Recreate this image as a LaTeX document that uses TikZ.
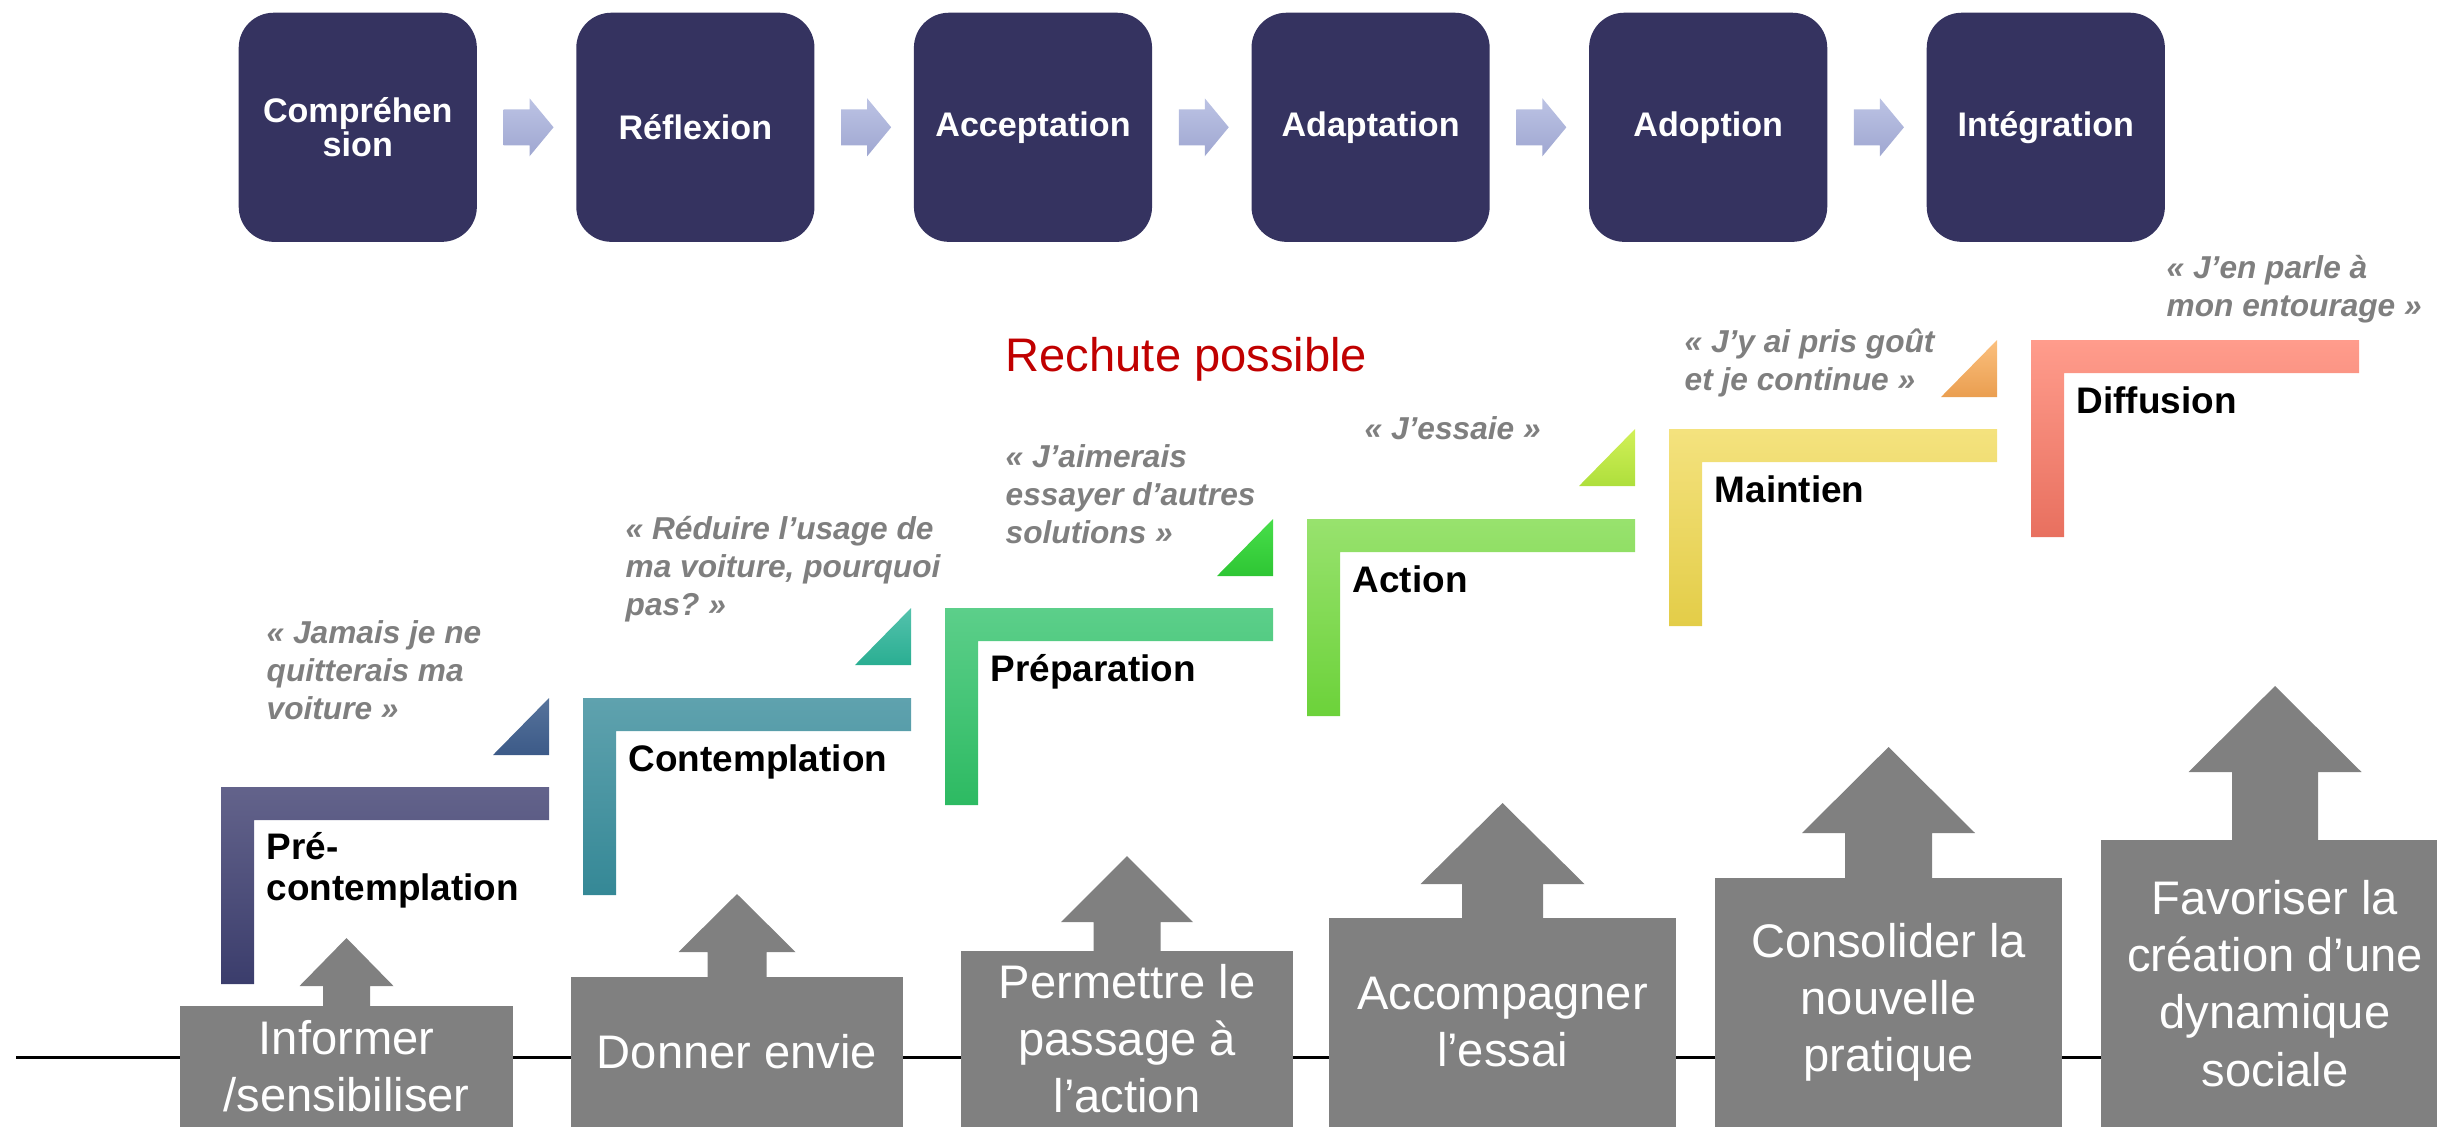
\documentclass[tikz,border=0pt]{standalone}
\usepackage{fontspec}
\setmainfont{Liberation Sans}
\usetikzlibrary{positioning,calc}

\definecolor{navybox}{HTML}{353360}
\definecolor{levergray}{HTML}{808080}
\definecolor{saygray}{HTML}{7F7F7F}
\definecolor{relapse}{HTML}{C00000}
\definecolor{arrowtop}{HTML}{BCC3E4}
\definecolor{arrowbot}{HTML}{9FA7D1}
% stairs: top / bottom
\definecolor{preA}{HTML}{63638B}
\definecolor{preB}{HTML}{3B3D6C}
\definecolor{conA}{HTML}{5FA2AE}
\definecolor{conB}{HTML}{358896}
\definecolor{prpA}{HTML}{5CCF8A}
\definecolor{prpB}{HTML}{2DBA62}
\definecolor{actA}{HTML}{98E26E}
\definecolor{actB}{HTML}{6CD23A}
\definecolor{maiA}{HTML}{F4E27E}
\definecolor{maiM}{HTML}{F8E45A}
\definecolor{maiB}{HTML}{E3CD48}
\definecolor{difA}{HTML}{FF9C8C}
\definecolor{difB}{HTML}{E8705F}
% wedges: top / bottom
\definecolor{wdgAa}{HTML}{56739B}
\definecolor{wdgAb}{HTML}{3C5A88}
\definecolor{wdgBa}{HTML}{54C2AC}
\definecolor{wdgBb}{HTML}{2AAE92}
\definecolor{wdgCa}{HTML}{48DE4A}
\definecolor{wdgCb}{HTML}{2EC634}
\definecolor{wdgDa}{HTML}{D2F058}
\definecolor{wdgDb}{HTML}{AEDF3C}
\definecolor{wdgEa}{HTML}{FBC07E}
\definecolor{wdgEb}{HTML}{EA9E50}

\newcommand{\leverarrow}[5]{%
  \fill[levergray] ($(#1.north)+(-#2,1)$) -- ++(0,{-#4-1}) -- ++({#2-#3},0) -- ++(#3,-#5)
    -- ++(#3,#5) -- ++({#2-#3},0) -- ++(0,{#4+1}) -- cycle;}

\begin{document}
\begin{tikzpicture}[x=0.01cm, y=-0.01cm,
    phase/.style={rectangle, draw=none, rounded corners=3.5mm, fill=navybox, text=white,
        font=\fontsize{9.7}{9.7}\selectfont\bfseries, align=center,
        minimum width=2.38cm, minimum height=2.29cm, inner sep=0pt},
    flowarrow/.style={top color=arrowtop, bottom color=arrowbot, draw=none},
    lever/.style={rectangle, draw=none, fill=levergray, text=white, align=center,
        font=\fontsize{13.4}{16.3}\selectfont, minimum width=3.33cm, inner sep=0pt, anchor=north},
    stage/.style={font=\fontsize{10.5}{11.4}\selectfont\bfseries, align=left,
        inner sep=0pt, anchor=base west},
    saying/.style={font=\fontsize{9}{10.8}\selectfont\bfseries\itshape, text=saygray,
        align=left, inner sep=0pt, anchor=base west}
]
\useasboundingbox (0,0) rectangle (2437,1126);

% top row
\node (compr) [phase, anchor=north west] at (238,12) {Compréhen\\sion};
\node (reflex) [phase, right=0.98cm of compr] {Réflexion};
\node (accept) [phase, right=0.98cm of reflex] {Acceptation};
\node (adapt) [phase, right=0.98cm of accept] {Adaptation};
\node (adopt) [phase, right=0.98cm of adapt] {Adoption};
\node (integr) [phase, right=0.98cm of adopt] {Intégration};

\shade[flowarrow] ($(compr.east)+(26,-18)$) -- ++(26,0) -- ++(0,-11) -- ++(24,29) -- ++(-24,29) -- ++(0,-11) -- ++(-26,0) -- cycle;
\shade[flowarrow] ($(reflex.east)+(26,-18)$) -- ++(26,0) -- ++(0,-11) -- ++(24,29) -- ++(-24,29) -- ++(0,-11) -- ++(-26,0) -- cycle;
\shade[flowarrow] ($(accept.east)+(26,-18)$) -- ++(26,0) -- ++(0,-11) -- ++(24,29) -- ++(-24,29) -- ++(0,-11) -- ++(-26,0) -- cycle;
\shade[flowarrow] ($(adapt.east)+(26,-18)$) -- ++(26,0) -- ++(0,-11) -- ++(24,29) -- ++(-24,29) -- ++(0,-11) -- ++(-26,0) -- cycle;
\shade[flowarrow] ($(adopt.east)+(26,-18)$) -- ++(26,0) -- ++(0,-11) -- ++(24,29) -- ++(-24,29) -- ++(0,-11) -- ++(-26,0) -- cycle;

% stairs
\shade[top color=preA, bottom color=preB] (221,787) -- ++(328,0) -- ++(0,33) -- ++(-295,0) -- ++(0,164) -- ++(-33,0) -- cycle;
\shade[top color=conA, bottom color=conB] (583,698) -- ++(328,0) -- ++(0,33) -- ++(-295,0) -- ++(0,164) -- ++(-33,0) -- cycle;
\shade[top color=prpA, bottom color=prpB] (945,608) -- ++(328,0) -- ++(0,33) -- ++(-295,0) -- ++(0,164) -- ++(-33,0) -- cycle;
\shade[top color=actA, bottom color=actB] (1307,519) -- ++(328,0) -- ++(0,33) -- ++(-295,0) -- ++(0,164) -- ++(-33,0) -- cycle;
\shade[top color=maiA, middle color=maiM, bottom color=maiB] (1669,429) -- ++(328,0) -- ++(0,33) -- ++(-295,0) -- ++(0,164) -- ++(-33,0) -- cycle;
\shade[top color=difA, bottom color=difB] (2031,340) -- ++(328,0) -- ++(0,33) -- ++(-295,0) -- ++(0,164) -- ++(-33,0) -- cycle;

\shade[top color=wdgAa, bottom color=wdgAb] (549,698) -- (549,755) -- (493,755) -- cycle;
\shade[top color=wdgBa, bottom color=wdgBb] (911,608) -- (911,665) -- (855,665) -- cycle;
\shade[top color=wdgCa, bottom color=wdgCb] (1273,519) -- (1273,576) -- (1217,576) -- cycle;
\shade[top color=wdgDa, bottom color=wdgDb] (1635,429) -- (1635,486) -- (1579,486) -- cycle;
\shade[top color=wdgEa, bottom color=wdgEb] (1997,340) -- (1997,397) -- (1941,397) -- cycle;

\node (precontemp) [stage] at (266,900) {Pré-\\contemplation};
\node (contemp) [stage] at (628,771) {Contemplation};
\node (prep) [stage] at (990,681) {Préparation};
\node (action) [stage] at (1352,592) {Action};
\node (maint) [stage] at (1714,502) {Maintien};
\node (diffus) [stage] at (2076,413) {Diffusion};

\node (say1) [saying] at (266,719) {«~Jamais je ne\\quitterais ma\\voiture~»};
\node (say2) [saying] at (625,615) {«~Réduire l’usage de\\ma voiture, pourquoi\\pas?~»};
\node (say3) [saying] at (1005,543) {«~J’aimerais\\essayer d’autres\\solutions~»};
\node (say4) [saying] at (1364,439) {«~J’essaie~»};
\node (say5) [saying] at (1684,390) {«~J’y ai pris goût\\et je continue~»};
\node (say6) [saying] at (2166,316) {«~J’en parle à\\mon entourage~»};

\node (rechute) [anchor=base west, inner sep=0pt, text=relapse, font=\fontsize{13.4}{16}\selectfont] at (1005,371) {Rechute possible};

% levers
\coordinate (axisl) at (16,1057);
\coordinate (axisr) at (2437,1057);
\draw[line width=0.85pt] (axisl) -- (axisr);

\node (inform) [lever, minimum height=1.21cm] at (346.5,1005) {Informer\\/sensibiliser};
\node (envie) [lever, minimum width=3.32cm, minimum height=1.50cm] at (737,976) {Donner envie};
\node (passage) [lever, minimum width=3.32cm, minimum height=1.76cm] at (1127,950) {Permettre le\\passage à\\l’action};
\node (essai) [lever, minimum width=3.47cm, minimum height=2.09cm] at (1502.5,917) {Accompagner\\l’essai};
\node (consol) [lever, minimum width=3.47cm, minimum height=2.49cm] at (1888.5,877) {Consolider la\\nouvelle\\pratique};
\node (dynam) [lever, minimum width=3.47cm, minimum height=2.87cm] at (2275,839) {Favoriser la\\création d’une\\dynamique\\sociale};

\leverarrow{inform}{23.5}{47}{19}{48}
\leverarrow{envie}{29.5}{58.5}{24}{58}
\leverarrow{passage}{33.5}{66}{28}{66}
\leverarrow{essai}{40.5}{82}{33}{81}
\leverarrow{consol}{43.5}{86.5}{44}{86}
\leverarrow{dynam}{43}{86.5}{67}{86}
\end{tikzpicture}
\end{document}
